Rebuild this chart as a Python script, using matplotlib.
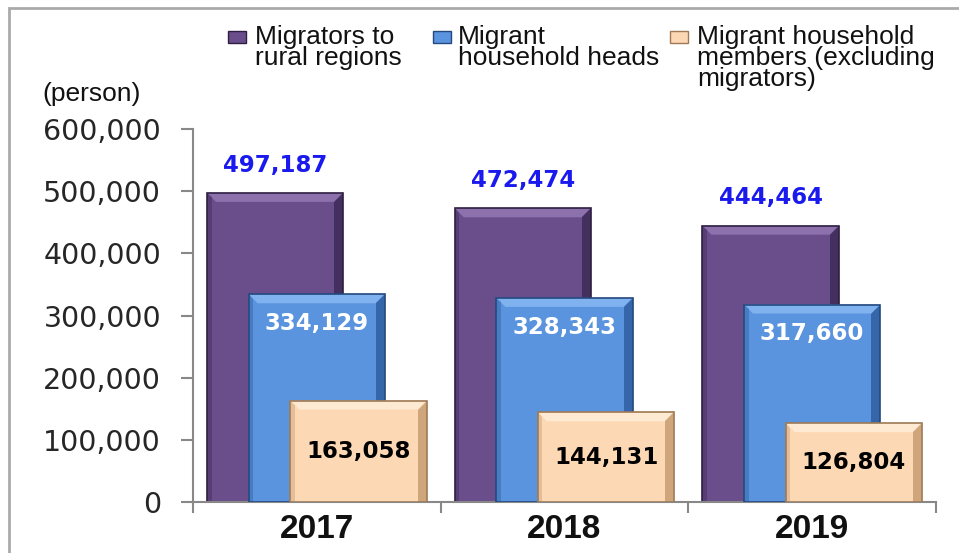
import matplotlib
matplotlib.use("Agg")
import matplotlib.pyplot as plt
from matplotlib.patches import Rectangle, Polygon
from matplotlib.ticker import FuncFormatter, MultipleLocator
import numpy as np

years = ["2017", "2018", "2019"]
series_names = ["Migrators to\nrural regions", "Migrant\nhousehold heads",
                "Migrant household\nmembers (excluding\nmigrators)"]
migrators = [497187, 472474, 444464]
heads = [334129, 328343, 317660]
members = [163058, 144131, 126804]
unit_label = "(person)"

face = ["#6a4d8b", "#5a93de", "#fcd8b5"]
light = ["#8c71ad", "#80b2f0", "#fee9d2"]
dark = ["#44305e", "#3566aa", "#cfa57c"]
edge = ["#2e1f42", "#24497f", "#9e7a55"]

W, H = 959, 553
fig = plt.figure(figsize=(W / 100, H / 100), dpi=100)
ax = fig.add_axes([193 / W, 1 - 502 / H, (936 - 193) / W, (502 - 129) / H])

x = np.arange(len(years))
width = 0.55
offsets = [-0.168, 0.0, 0.168]
all_series = [migrators, heads, members]


def bevel(ax, patch, i):
    bx, bw, bh = patch.get_x(), patch.get_width(), patch.get_height()
    px_x = 1.0 / 249.0
    px_y = 600000 / 373.0
    dx, dy = 9 * px_x, 9 * px_y
    x0, x1, y0, y1 = bx, bx + bw, 0, bh
    z = patch.get_zorder()
    ax.add_patch(Polygon([(x0, y1), (x1, y1), (x1 - dx, y1 - dy), (x0 + dx, y1 - dy)],
                         closed=True, facecolor=light[i], edgecolor="none", zorder=z + 0.1))
    ax.add_patch(Polygon([(x1, y1), (x1, y0), (x1 - dx, y0), (x1 - dx, y1 - dy)],
                         closed=True, facecolor=dark[i], edgecolor="none", zorder=z + 0.1))
    ax.add_patch(Polygon([(x0, y1), (x0, y0), (x0 + dx * 0.5, y0), (x0 + dx * 0.5, y1 - dy * 0.5)],
                         closed=True, facecolor=dark[i], alpha=0.5, edgecolor="none", zorder=z + 0.1))
    ax.add_patch(Rectangle((x0, y0), bw, bh, facecolor="none", edgecolor=edge[i], lw=1.2,
                           zorder=z + 0.2))


for i, vals in enumerate(all_series):
    bars = ax.bar(x + offsets[i], vals, width, color=face[i], zorder=2 + i)
    for p in bars:
        bevel(ax, p, i)

for j in range(len(years)):
    ax.annotate(f"{migrators[j]:,}", (x[j] + offsets[0], migrators[j]), xytext=(0, 20),
                textcoords="offset points", ha="center", va="center", color="#1a1aee",
                fontsize=16.5, fontweight="bold", family="DejaVu Sans", zorder=10)
    ax.annotate(f"{heads[j]:,}", (x[j] + offsets[1], heads[j]), xytext=(0, -21),
                textcoords="offset points", ha="center", va="center", color="white",
                fontsize=16.5, fontweight="bold", family="DejaVu Sans", zorder=10)
    ax.text(x[j] + offsets[2], members[j] / 2, f"{members[j]:,}", ha="center", va="center",
            color="black", fontsize=16.5, fontweight="bold", family="DejaVu Sans", zorder=10)

ax.set_xlim(-0.5, 2.5)
ax.set_ylim(0, 600000)
ax.yaxis.set_major_locator(MultipleLocator(100000))
ax.yaxis.set_major_formatter(FuncFormatter(lambda v, p: f"{int(v):,}"))
for lab in ax.get_yticklabels():
    lab.set_family("DejaVu Sans")
ax.tick_params(axis="y", labelsize=20.5, colors="#888888", labelcolor="#262626", length=9, width=1.5, pad=14)
ax.set_xticks([-0.5, 0.5, 1.5, 2.5])
ax.set_xticklabels([])
ax.tick_params(axis="x", length=8, width=1.5, colors="#888888")
for j, yl in enumerate(years):
    ax.text(x[j], -0.032, yl, transform=ax.get_xaxis_transform(), ha="center", va="top",
            fontsize=24, fontweight="bold", family="Liberation Sans", color="#111111")
for s in ["top", "right"]:
    ax.spines[s].set_visible(False)
for s in ["left", "bottom"]:
    ax.spines[s].set_color("#888888")
    ax.spines[s].set_linewidth(1.5)

fig.patches.append(Rectangle((9 / W, -0.1), 1.2, 1 - 8 / H + 0.1, transform=fig.transFigure,
                             facecolor="none", edgecolor="#aaaaaa", lw=2))

fig.text(42 / W, 1 - 94 / H, unit_label, fontsize=19, family="Liberation Sans",
         color="#111111", va="center", ha="left")

leg_x = [228, 433, 670]
txt_x = [255, 458, 697]
for i, name in enumerate(series_names):
    fig.patches.append(Rectangle((leg_x[i] / W, 1 - 43 / H), 18 / W, 12 / H, transform=fig.transFigure,
                                 facecolor=face[i], edgecolor=edge[i], lw=1))
    fig.text(txt_x[i] / W, 1 - 25 / H, name, fontsize=19, family="Liberation Sans",
             color="#111111", va="top", ha="left", linespacing=0.85)

fig.savefig("out.png", dpi=100)
